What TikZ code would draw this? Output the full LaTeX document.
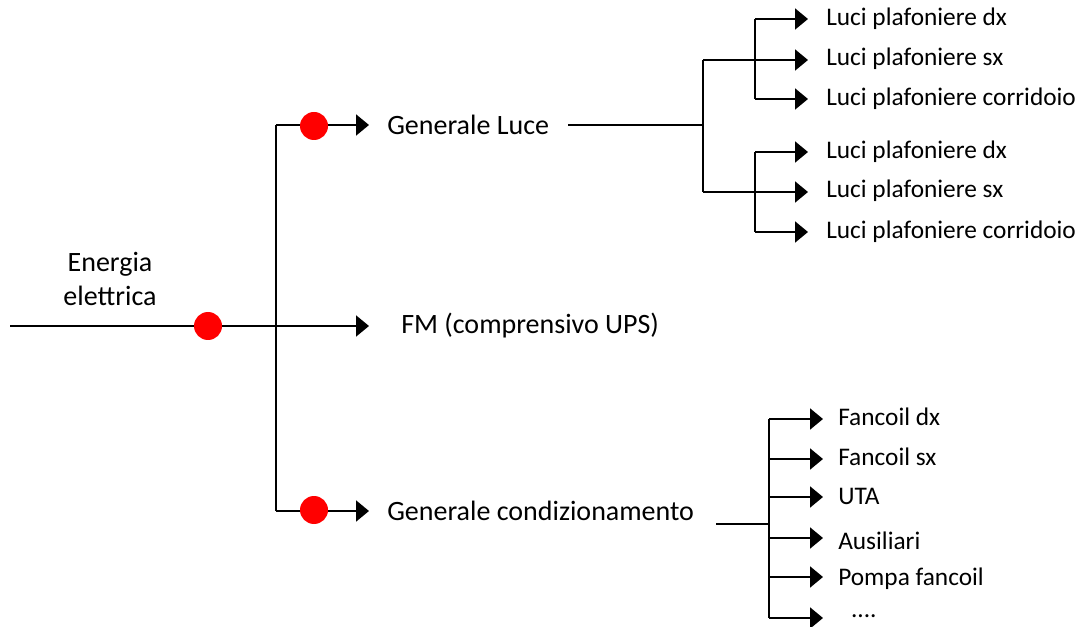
\documentclass[tikz,border=0pt]{standalone}
\usepackage{fontspec}
\setmainfont{Carlito}
\usetikzlibrary{arrows.meta}
\begin{document}
\begin{tikzpicture}[x=0.75pt,y=-0.75pt,
  wire/.style={line width=1.5pt},
  arr/.style={line width=1.5pt,-{Triangle[length=9.75pt,width=15.75pt]}},
  dot/.style={circle,fill=red,inner sep=0pt,minimum size=21pt},
  big/.style={font=\fontsize{21}{25}\selectfont,inner sep=0pt},
  small/.style={font=\fontsize{19}{22}\selectfont,inner sep=0pt,anchor=west}]
\useasboundingbox (0,0) rectangle (1082,627);
% main
\coordinate (src) at (10,326);
\coordinate (bus) at (276,326);
\coordinate (busT) at (276,125);
\coordinate (busB) at (276,511);
\node[big,align=center] (en) at (110,279) {Energia\\elettrica};
\draw[wire] (src) -- (bus);
\draw[wire] (busT) -- (busB);
\node[big,anchor=west] (gl) at (387,125) {Generale Luce};
\node[big,anchor=west] (fm) at (401,326) {FM (comprensivo UPS)};
\node[big,anchor=west] (gc) at (387,511) {Generale condizionamento};
\draw[arr] (busT) -- ([xshift=-13.5pt]busT -| gl.west);
\draw[arr] (bus) -- ([xshift=-24pt]bus -| fm.west);
\draw[arr] (busB) -- ([xshift=-13.5pt]busB -| gc.west);
\node[dot] (d0) at (208,326) {};
\node[dot] (d1) at (314,126) {};
\node[dot] (d2) at (314,510) {};
% luce tree
\coordinate (l0) at (568,125);
\coordinate (l1) at (703,125);
\coordinate (l1t) at (703,60);
\coordinate (l1b) at (703,192);
\coordinate (ga) at (755,60);
\coordinate (gb) at (755,192);
\coordinate (gat) at (755,19);
\coordinate (gam) at (755,60);
\coordinate (gab) at (755,99);
\coordinate (gbt) at (755,152);
\coordinate (gbm) at (755,192);
\coordinate (gbb) at (755,232);
\draw[wire] (l0) -- (l1);
\draw[wire] (l1t) -- (l1b);
\draw[wire] (l1t) -- (ga);
\draw[wire] (l1b) -- (gb);
\draw[wire] (gat) -- (gab);
\draw[wire] (gbt) -- (gbb);
\node[small] (a1) at (826,19) {Luci plafoniere dx};
\node[small] (a2) at (826,59) {Luci plafoniere sx};
\node[small] (a3) at (826,99) {Luci plafoniere corridoio};
\node[small] (b1) at (826,152) {Luci plafoniere dx};
\node[small] (b2) at (826,191) {Luci plafoniere sx};
\node[small] (b3) at (826,232) {Luci plafoniere corridoio};
\foreach \s/\t in {gat/a1,gam/a2,gab/a3,gbt/b1,gbm/b2,gbb/b3}
  \draw[arr] (\s) -- ([xshift=-13.5pt]\s -| \t.west);
% condizionamento tree
\coordinate (c0) at (716,524);
\coordinate (c1) at (769,524);
\coordinate (ct) at (769,419);
\coordinate (cb) at (769,618);
\draw[wire] (c0) -- (c1);
\draw[wire] (ct) -- (cb);
\coordinate (k1) at (769,419);
\coordinate (k2) at (769,459);
\coordinate (k3) at (769,497);
\coordinate (k4) at (769,538);
\coordinate (k5) at (769,577);
\coordinate (k6) at (769,618);
\node[small] (f1) at (838,417) {Fancoil dx};
\node[small] (f2) at (838,457) {Fancoil sx};
\node[small] (f3) at (838,496) {UTA};
\node[small] (f4) at (838,541) {Ausiliari};
\node[small] (f5) at (838,579) {Pompa fancoil};
\node[small] (f6) at (838,616) {\phantom{..}....};
\foreach \s/\t in {k1/f1,k2/f2,k3/f3,k4/f4,k5/f5,k6/f6}
  \draw[arr] (\s) -- ([xshift=-11.25pt]\s -| \t.west);
\end{tikzpicture}
\end{document}
